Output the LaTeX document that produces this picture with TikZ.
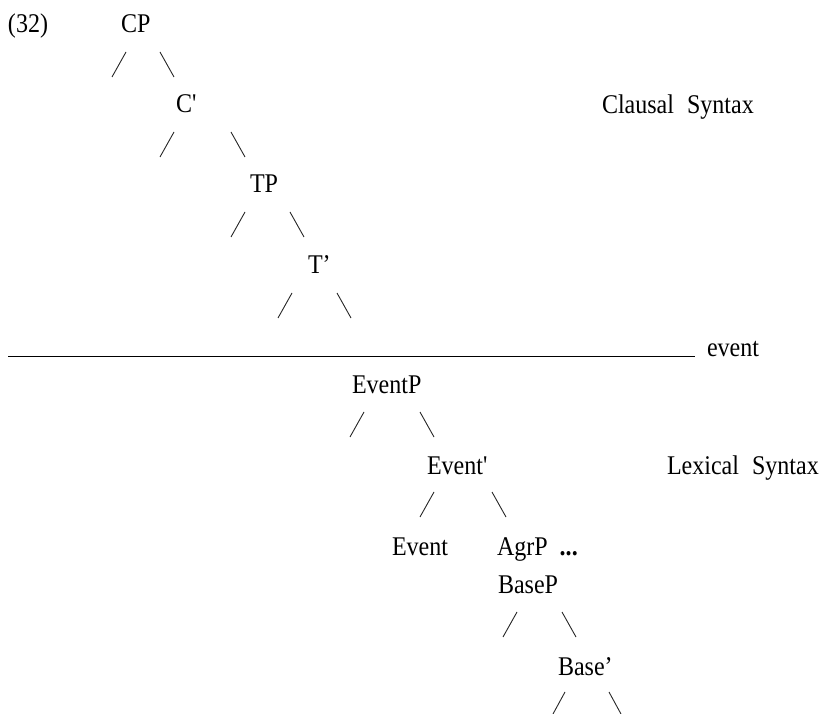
\documentclass[tikz,border=0pt]{standalone}
\usepackage{fontspec}
\setmainfont{Liberation Serif}[FakeStretch=0.89]
\begin{document}
\begin{tikzpicture}[x=1pt,y=-1pt,
  lbl/.style={anchor=base west,inner sep=0pt,outer sep=0pt,
    font=\fontsize{27}{31}\selectfont},
  branch/.style={line width=0.9pt,black!85},
  rule/.style={line width=1pt,black}]
\useasboundingbox (0,0) rectangle (823,714);

% example number
\node[lbl] (num) at (8,33) {(32)};

% clausal part of the tree
\node[lbl] (cp)   at (121,33)  {CP};
\node[lbl] (cbar) at (176,113) {C\textquotesingle};
\node[lbl] (tp)   at (250,193) {TP};
\node[lbl] (tbar) at (308,274) {T’};

% lexical part of the tree
\node[lbl] (eventp)   at (352,394) {EventP};
\node[lbl] (eventbar) at (427,474) {Event\textquotesingle};
\node[lbl] (event)    at (392,555) {Event};
\node[lbl] (agrp)     at (497,555) {AgrP\hspace{12pt}\textbf{...}};
\node[lbl] (basep)    at (498,593) {BaseP};
\node[lbl] (basebar)  at (558,675) {Base’};

% side labels
\node[lbl] (clausal) at (602,114) {Clausal\hspace{13pt}Syntax};
\node[lbl] (lexical) at (667,474) {Lexical\hspace{13pt}Syntax};
\node[lbl] (evlabel) at (707,357) {event};

% boundary between clausal and lexical syntax
\coordinate (lineL) at (8,357);
\coordinate (lineR) at (695,357);
\draw[rule] (lineL) -- (lineR);

% branch strokes: left stroke x / right stroke x / top y
\foreach \xl/\xr/\yt in {112/160/52, 160/231/132, 231/290/212, 278/337/293,
                         350/420/412, 420/492/492, 503/562/612}{
  \draw[branch] (\xl,\yt+25) -- (\xl+14,\yt);
  \draw[branch] (\xr,\yt) -- (\xr+14,\yt+25);
}
\draw[branch] (553,714) -- (565,692);
\draw[branch] (609,692) -- (621,714);
\end{tikzpicture}
\end{document}
